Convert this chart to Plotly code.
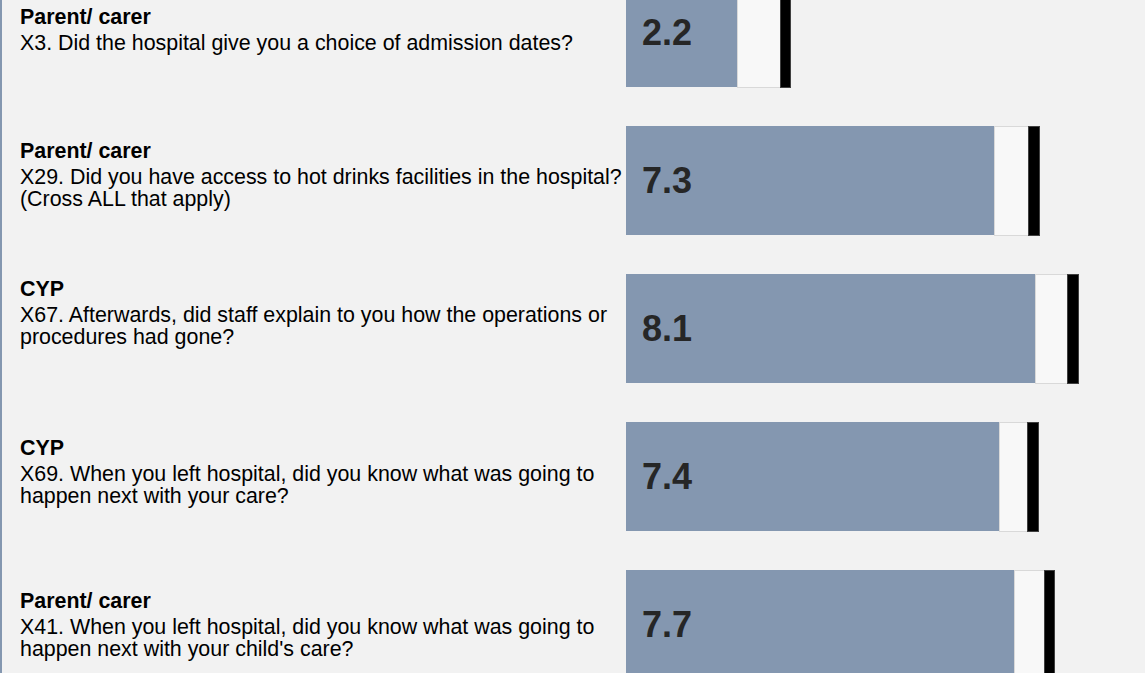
import plotly.graph_objects as go

# ---- data ----
categories = ["X3", "X29", "X67", "X69", "X41"]
groups = ["Parent/ carer", "Parent/ carer", "CYP", "CYP", "Parent/ carer"]
questions = [
    ["X3. Did the hospital give you a choice of admission dates?"],
    ["X29. Did you have access to hot drinks facilities in the hospital?", "(Cross ALL that apply)"],
    ["X67. Afterwards, did staff explain to you how the operations or", "procedures had gone?"],
    ["X69. When you left hospital, did you know what was going to", "happen next with your care?"],
    ["X41. When you left hospital, did you know what was going to", "happen next with your child's care?"],
]
scores = [2.2, 7.3, 8.1, 7.4, 7.7]
upper = [3.05, 7.98, 8.75, 7.96, 8.28]
marker_width = 0.21

W, H = 1145, 673
left_px = 626
px_per_unit = 50.5
row_px = 148

white_len = [u - s for u, s in zip(upper, scores)]

fig = go.Figure()
fig.add_trace(go.Bar(
    y=categories, x=scores, orientation="h", width=0.7365,
    marker=dict(color="#8497b0", line=dict(width=0)), hoverinfo="skip",
))
fig.add_trace(go.Bar(
    y=categories, x=white_len, orientation="h", width=0.7365,
    marker=dict(color="#f8f8f8", line=dict(color="#d9d9d9", width=1)), hoverinfo="skip",
))
fig.add_trace(go.Bar(
    y=categories, x=[marker_width] * len(categories), orientation="h", width=0.7365,
    marker=dict(color="#000000", line=dict(color="#404040", width=1)), hoverinfo="skip",
))

# label block offsets (px of header baseline relative to row centre)
block_offset = [-6.5, -20.5, -31, -20, -15]
line_offsets = [0, 26, 48]
fs = 21.4
annotations = []
for i, cat in enumerate(categories):
    lines = [("<b>%s</b>" % groups[i])] + questions[i]
    for j, ln in enumerate(lines):
        base = block_offset[i] + line_offsets[j]
        annotations.append(dict(
            xref="paper", yref="y", x=(18 - left_px) / (W - left_px), y=cat,
            text=ln, showarrow=False, xanchor="left", yanchor="bottom",
            yshift=-(base) - 5, font=dict(family="Liberation Sans, Arial", size=fs, color="#000000"),
        ))
    annotations.append(dict(
        xref="x", yref="y", x=0, y=cat, text="<b>%.1f</b>" % scores[i], showarrow=False,
        xanchor="left", yanchor="middle", xshift=14,
        font=dict(family="Liberation Sans, Arial", size=36, color="#262626"),
    ))

top_units = -32.5 / row_px
bottom_units = top_units + H / row_px

fig.update_layout(
    width=W, height=H, barmode="stack", showlegend=False,
    margin=dict(l=left_px, r=0, t=0, b=0),
    paper_bgcolor="#f2f2f2", plot_bgcolor="#f2f2f2",
    xaxis=dict(range=[0, (W - left_px) / px_per_unit], visible=False, fixedrange=True),
    yaxis=dict(type="category", categoryorder="array", categoryarray=categories,
               range=[bottom_units, top_units], visible=False, fixedrange=True),
    annotations=annotations,
    shapes=[dict(type="line", xref="paper", yref="paper",
                 x0=-(left_px - 1) / (W - left_px), x1=-(left_px - 1) / (W - left_px),
                 y0=0, y1=1, line=dict(color="#8497b0", width=2))],
)

fig.write_html(
    "out.html",
    config={"displayModeBar": False},
    post_script="document.body.style.margin='0';document.body.style.background='#f2f2f2';",
)
